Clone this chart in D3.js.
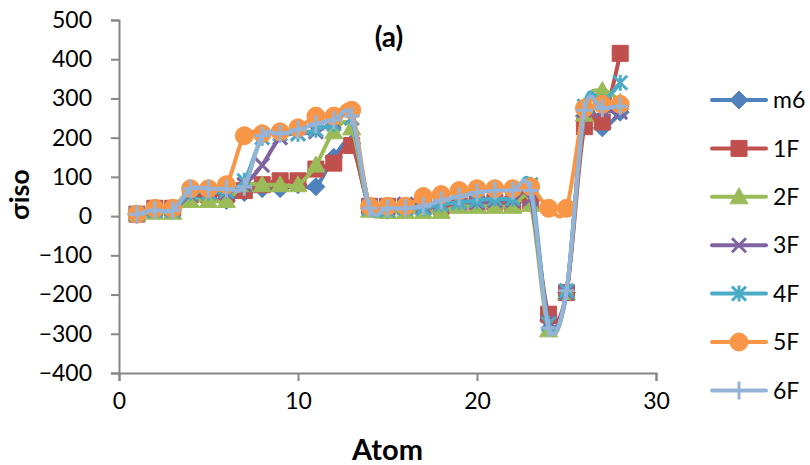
<!DOCTYPE html>
<html>
<head>
<meta charset="utf-8">
<script src="https://cdn.jsdelivr.net/npm/d3@7"></script>
<style>
  body { margin: 0; background: #fff; }
  svg { font-family: Lato, "Open Sans", sans-serif; }
</style>
</head>
<body>
<svg id="chart" width="810" height="465"></svg>
<script>
// data
const atoms = [1, 2, 3, 4, 5, 6, 7, 8, 9, 10, 11, 12, 13, 14, 15, 16, 17, 18, 19, 20, 21, 22, 23, 24, 25, 26, 27, 28];
const seriesNames = ["m6", "1F", "2F", "3F", "4F", "5F", "6F"];
const m6 = [5, 15, 15, 50, 45, 40, 60, 70, 70, 80, 75, 150, 185, 20, 15, 20, 20, 25, 30, 30, 30, 35, 40, -265, -195, 255, 225, 265];
const f1 = [5, 20, 20, 55, 55, 55, 65, 80, 90, 90, 120, 135, 180, 25, 25, 25, 25, 25, 30, 30, 35, 30, 35, -250, -195, 228, 240, 415];
const f2 = [5, 10, 10, 40, 40, 40, 80, 80, 80, 80, 130, 215, 225, 15, 12, 12, 12, 12, 25, 25, 25, 25, 30, -290, -195, 260, 320, 290];
const f3 = [5, 15, 15, 55, 60, 60, 80, 130, 200, 210, 215, 240, 250, 25, 20, 30, 25, 30, 35, 35, 40, 40, 45, -270, -195, 270, 270, 265];
const f4 = [5, 15, 15, 60, 60, 65, 90, 200, 210, 210, 220, 235, 250, 20, 15, 20, 20, 30, 35, 40, 45, 45, 80, -275, -190, 280, 290, 340];
const f5 = [5, 20, 20, 70, 70, 80, 205, 210, 215, 225, 255, 255, 270, 25, 25, 25, 50, 55, 65, 70, 70, 70, 75, 20, 20, 275, 285, 285];
const f6 = [5, 15, 15, 70, 70, 70, 75, 205, 210, 220, 235, 245, 255, 20, 20, 20, 25, 40, 50, 60, 65, 65, 65, -285, -190, 270, 275, 280];
const allValues = [m6, f1, f2, f3, f4, f5, f6];
const colors = ["#4F81BD", "#C0504D", "#9BBB59", "#8064A2", "#4BACC6", "#F79646", "#95B3D7"];
const markers = ["diamond", "square", "triangle", "x", "star", "circle", "plus"];
const yTicks = [-400, -300, -200, -100, 0, 100, 200, 300, 400, 500];
const xTicks = [0, 10, 20, 30];

const svg = d3.select("#chart");
const margin = { top: 20, left: 119, right: 154, bottom: 92 };
const plotW = 810 - margin.left - margin.right;
const plotH = 465 - margin.top - margin.bottom;

const x = d3.scaleLinear().domain([0, 30]).range([margin.left, margin.left + plotW]);
const y = d3.scaleLinear().domain([-400, 500]).range([margin.top + plotH, margin.top]);

const axisColor = "#868686";

//axes
const yAxis = svg.append("g")
  .attr("transform", `translate(${margin.left},0)`)
  .call(d3.axisLeft(y).tickValues(yTicks).tickSize(8).tickPadding(19));
const xAxis = svg.append("g")
  .attr("transform", `translate(0,${margin.top + plotH})`)
  .call(d3.axisBottom(x).tickValues(xTicks).tickSize(8).tickPadding(12));
[yAxis, xAxis].forEach(a => {
  a.selectAll("path").attr("stroke", axisColor).attr("stroke-width", 2);
  a.selectAll("line").attr("stroke", axisColor).attr("stroke-width", 2);
  a.selectAll("text").attr("font-size", 23).attr("fill", "#000").attr("font-family", "Lato, sans-serif");
});

//marker shapes, centred on 0,0
function markerPath(type) {
  switch (type) {
    case "diamond": return "M0,-9L9,0L0,9L-9,0Z";
    case "square": return "M-8,-8H8V8H-8Z";
    case "triangle": return "M0,-9L9,7H-9Z";
    case "x": return "M-7,-7L7,7M7,-7L-7,7";
    case "star": return "M-7,-7L7,7M7,-7L-7,7M0,-8V8";
    case "circle": return "M-9,0A9,9 0 1,0 9,0A9,9 0 1,0 -9,0Z";
    case "plus": return "M0,-9V9M-8,0H8";
  }
}
const strokeOnly = t => t === "x" || t === "star" || t === "plus";

const line = d3.line()
  .x(d => x(d[0]))
  .y(d => y(d[1]))
  .curve(d3.curveCardinal.tension(0));

//series
seriesNames.forEach((name, i) => {
  const pts = atoms.map((a, j) => [a, allValues[i][j]]);
  const g = svg.append("g");
  g.append("path")
    .datum(pts)
    .attr("d", line)
    .attr("fill", "none")
    .attr("stroke", colors[i])
    .attr("stroke-width", 4)
    .attr("stroke-linejoin", "round");
  g.selectAll("path.mk")
    .data(pts)
    .join("path")
    .attr("class", "mk")
    .attr("transform", d => `translate(${x(d[0])},${y(d[1])})`)
    .attr("d", markerPath(markers[i]))
    .attr("fill", strokeOnly(markers[i]) ? "none" : colors[i])
    .attr("stroke", colors[i])
    .attr("stroke-width", strokeOnly(markers[i]) ? 3 : 1);
});

//legend
const legend = svg.append("g");
seriesNames.forEach((name, i) => {
  const ly = 100 + i * 48.4;
  const item = legend.append("g").attr("transform", `translate(712,${ly})`);
  item.append("line")
    .attr("x1", 0).attr("x2", 54)
    .attr("stroke", colors[i]).attr("stroke-width", 4)
    .attr("stroke-linecap", "round");
  item.append("path")
    .attr("transform", "translate(27,0)")
    .attr("d", markerPath(markers[i]))
    .attr("fill", strokeOnly(markers[i]) ? "none" : colors[i])
    .attr("stroke", colors[i])
    .attr("stroke-width", strokeOnly(markers[i]) ? 3 : 1);
  item.append("text")
    .attr("x", 61).attr("y", 0)
    .attr("dy", "0.36em")
    .attr("font-size", 23)
    .text(name);
});

//titles
svg.append("text")
  .attr("x", 389).attr("y", 47)
  .attr("text-anchor", "middle")
  .attr("font-size", 28).attr("font-weight", "bold")
  .text("(a)");
svg.append("text")
  .attr("x", x(15)).attr("y", 460)
  .attr("text-anchor", "middle")
  .attr("font-size", 29).attr("font-weight", "bold")
  .text("Atom");
svg.append("text")
  .attr("transform", `translate(29,${y(55)}) rotate(-90)`)
  .attr("text-anchor", "middle")
  .attr("font-size", 27).attr("font-weight", "bold")
  .text("σiso");
</script>
</body>
</html>
